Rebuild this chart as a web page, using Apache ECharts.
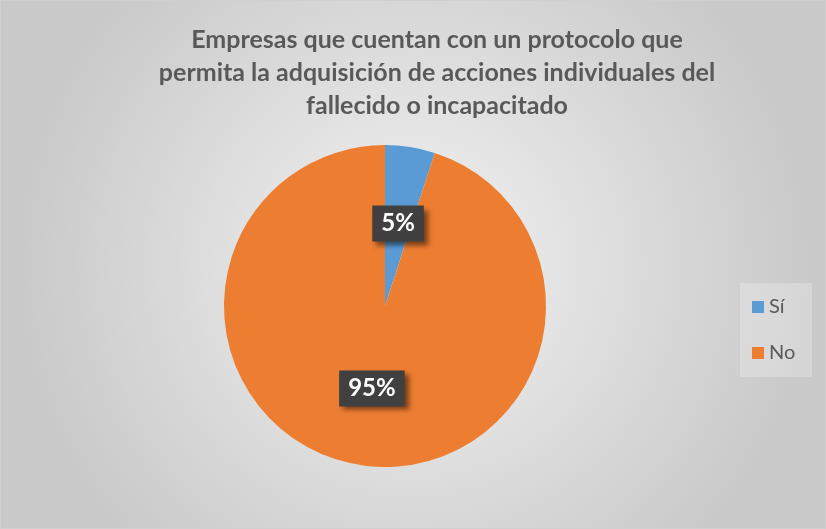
<!DOCTYPE html>
<html>
<head>
<meta charset="utf-8">
<script src="https://cdn.jsdelivr.net/npm/echarts@6/dist/echarts.min.js"></script>
<style>
  html, body { margin: 0; padding: 0; background: #fff; }
  #chart { width: 826px; height: 529px; }
</style>
</head>
<body>
<div id="chart"></div>
<script>
// Chart data
const categories = ["Sí", "No"];
const values = [5, 95];
const colors = ["#5B9BD5", "#ED7D31"];
const titleText = "Empresas que cuentan con un protocolo que\npermita la adquisición de acciones individuales del\nfallecido o incapacitado";

const chart = echarts.init(document.getElementById("chart"));

const option = {
  backgroundColor: {
    type: "radial",
    x: 0.5, y: 0.5, r: 0.75,
    colorStops: [
      { offset: 0, color: "#f3f3f3" },
      { offset: 1, color: "#c9c9c9" }
    ]
  },
  title: {
    text: titleText,
    left: 432,
    top: 18,
    textAlign: "center",
    textStyle: {
      fontFamily: "Lato",
      fontWeight: "bold",
      fontSize: 25,
      lineHeight: 33,
      color: "#595959"
    }
  },
  legend: {
    orient: "vertical",
    left: 752,
    top: 297,
    padding: 0,
    itemGap: 26,
    itemWidth: 12,
    itemHeight: 12,
    icon: "rect",
    data: categories,
    textStyle: {
      fontFamily: "Lato",
      fontSize: 20,
      color: "#595959"
    }
  },
  graphic: [{
    type: "rect",
    z: -1,
    shape: { x: 0.5, y: 0.5, width: 825, height: 528 },
    style: { fill: "none", stroke: "#d0d0d0", lineWidth: 1 },
    silent: true
  }, {
    type: "rect",
    z: -1,
    shape: { x: 740, y: 283, width: 72, height: 94 },
    style: { fill: "rgba(255,255,255,0.25)" },
    silent: true
  }],
  series: [{
    type: "pie",
    center: [385, 306],
    radius: 161,
    startAngle: 90,
    clockwise: true,
    animation: false,
    data: categories.map((name, i) => ({
      name: name,
      value: values[i],
      itemStyle: { color: colors[i] }
    })),
    label: {
      show: true,
      position: "inside",
      formatter: "{d}%",
      fontFamily: "Lato",
      fontWeight: "bold",
      fontSize: 24,
      color: "#ffffff",
      backgroundColor: "#404040",
      padding: [7, 9, 5, 9],
      shadowColor: "rgba(0,0,0,0.5)",
      shadowBlur: 5,
      shadowOffsetX: 4,
      shadowOffsetY: 4
    },
    labelLine: { show: false },
    emphasis: { disabled: true }
  }]
};

chart.setOption(option);
</script>
</body>
</html>
